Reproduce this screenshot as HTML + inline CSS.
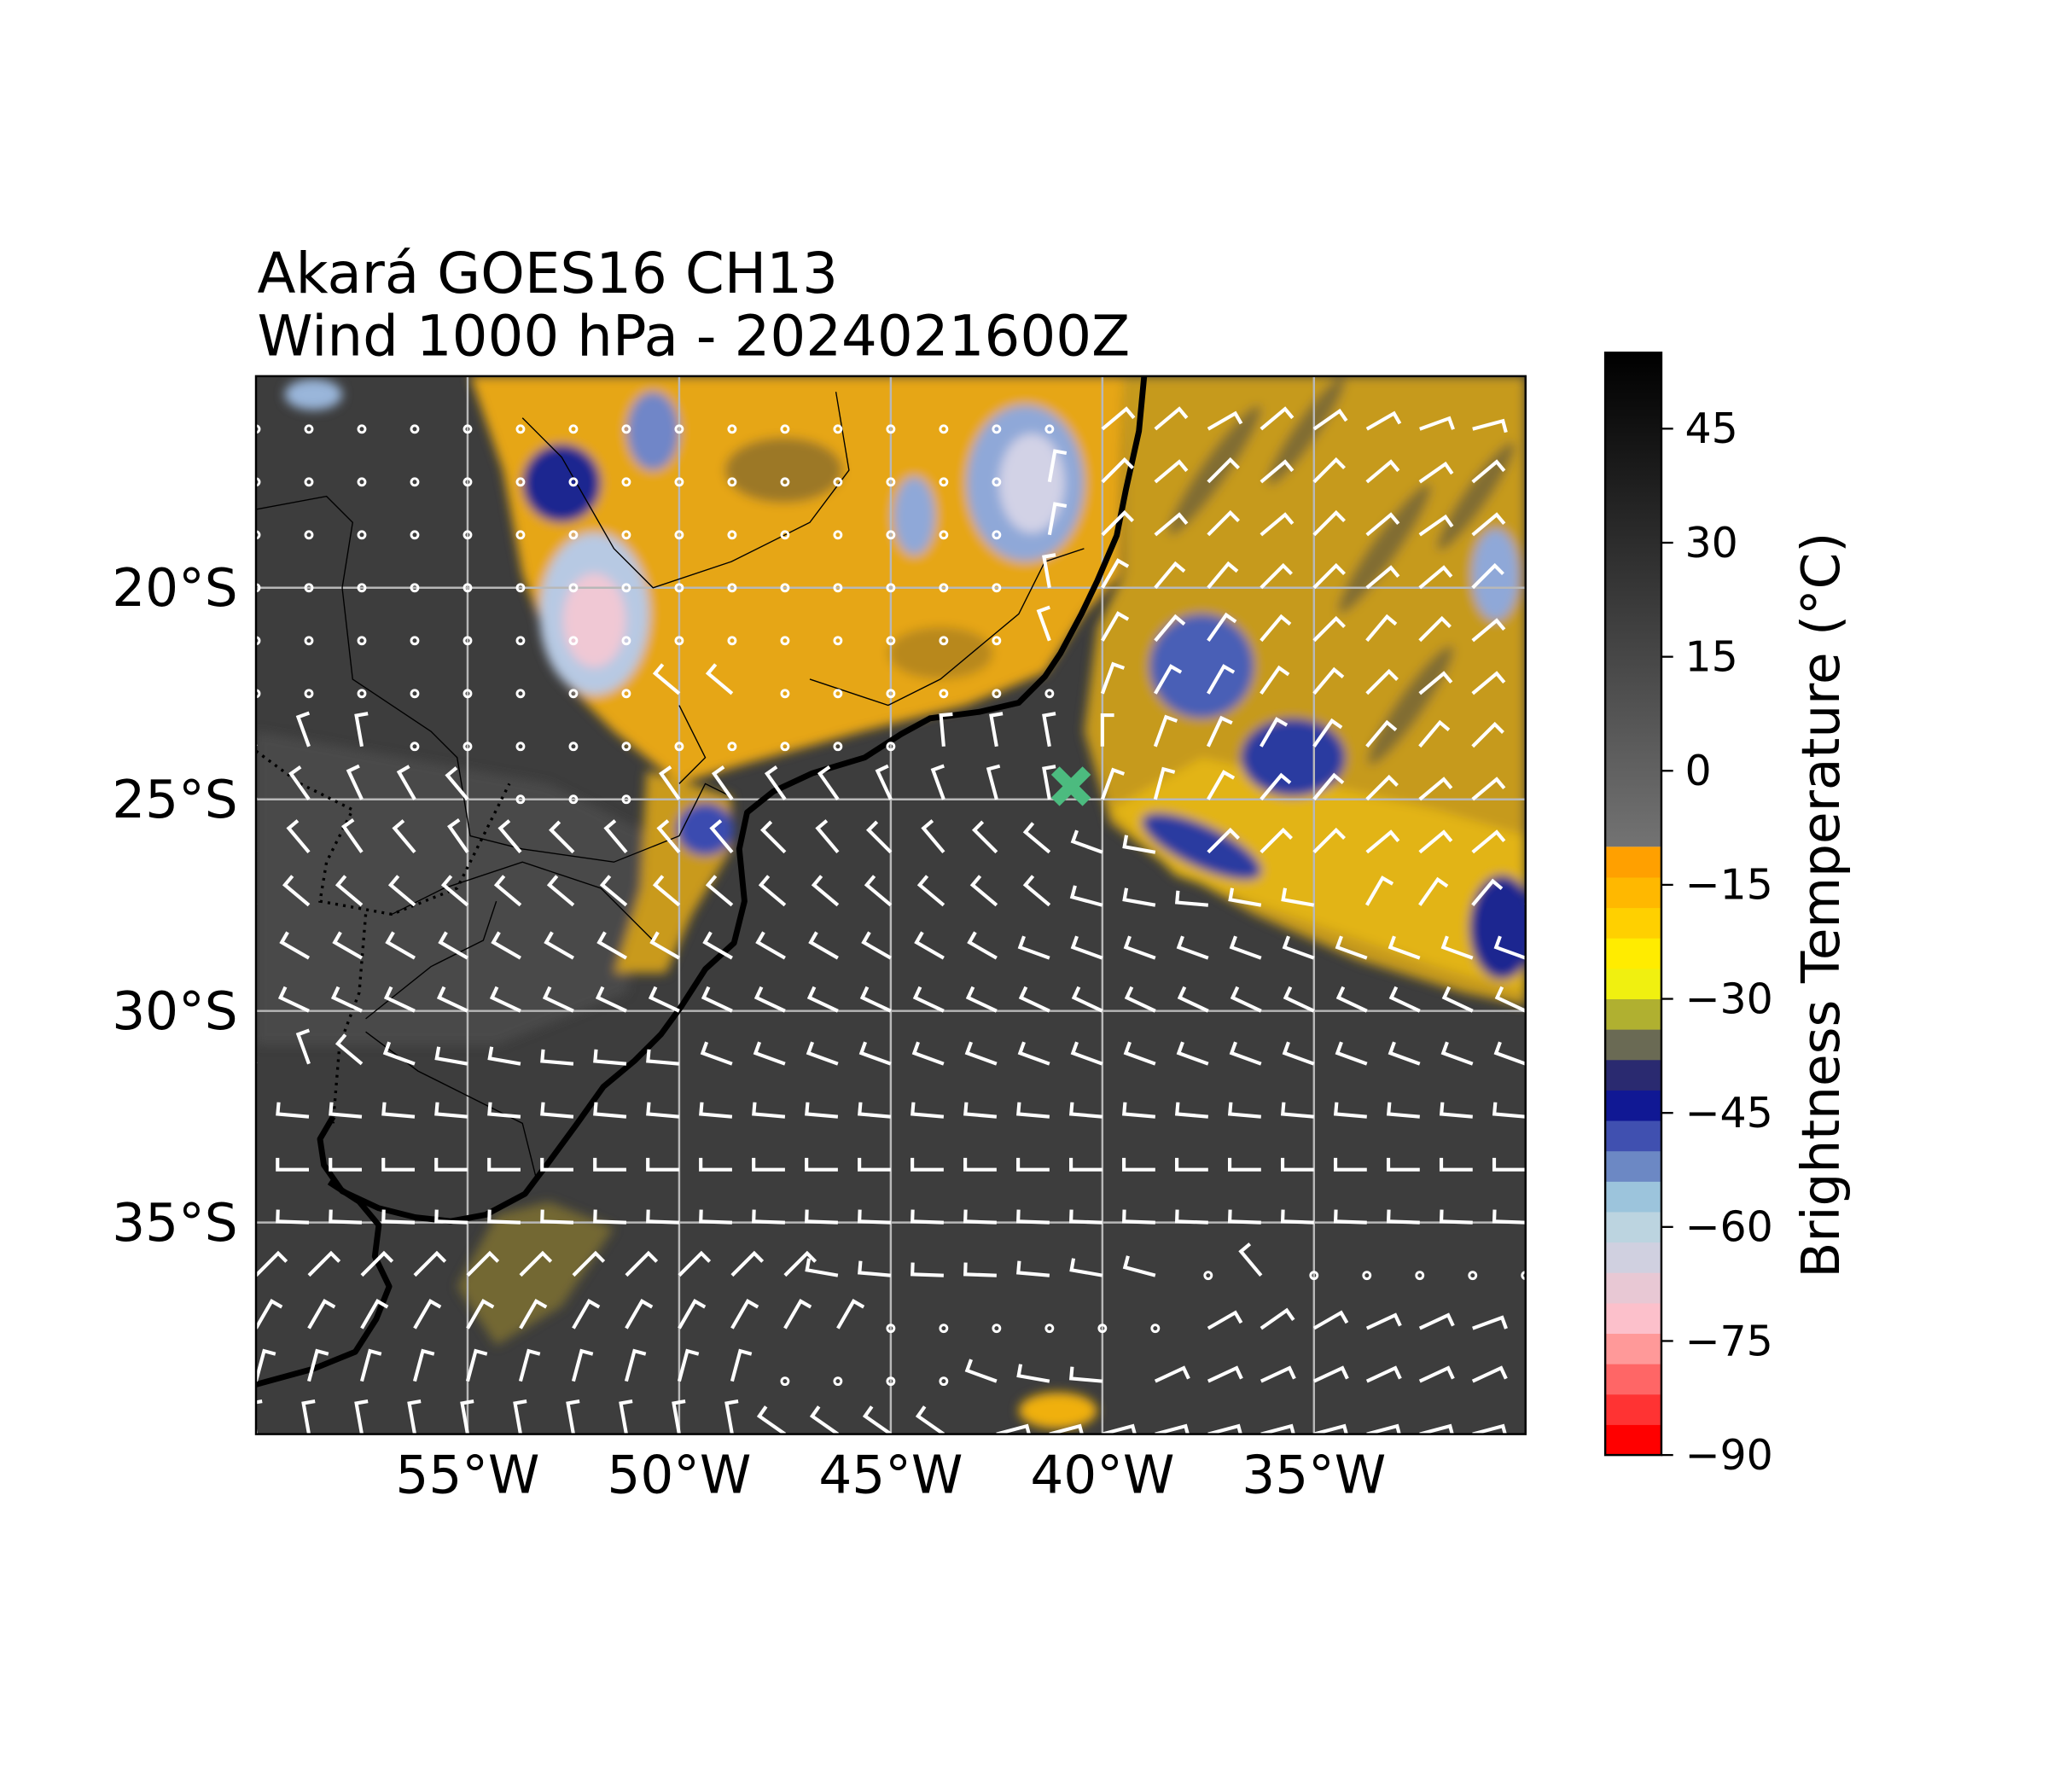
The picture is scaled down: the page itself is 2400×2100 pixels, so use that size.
<!DOCTYPE html>
<html><head><meta charset="utf-8">
<style>
html,body{margin:0;padding:0;background:#fff;}
svg{display:block;}
text{font-family:"DejaVu Sans","Liberation Sans",sans-serif;fill:#000;}
</style></head>
<body>
<svg id="chart" xmlns="http://www.w3.org/2000/svg" width="2400" height="2100" viewBox="0 0 1568 1372" preserveAspectRatio="none">
<defs>
  <clipPath id="mapclip"><rect x="196" y="288" width="972" height="810"/></clipPath>
  <linearGradient id="graygrad" x1="0" y1="1" x2="0" y2="0">
    <stop offset="0" stop-color="#737373"/>
    <stop offset="1" stop-color="#000000"/>
  </linearGradient>
  <filter id="soft" x="-10%" y="-10%" width="120%" height="120%"><feGaussianBlur stdDeviation="4"/></filter>
</defs>
<rect width="1568" height="1372" fill="#fff"/>
<text x="197" y="224" font-size="43">Akará GOES16 CH13</text>
<text x="197" y="272" font-size="43">Wind 1000 hPa - 2024021600Z</text>

<g id="map" clip-path="url(#mapclip)">
  <rect x="196" y="288" width="972" height="810" fill="#3d3d3d"/>
  <g filter="url(#soft)">
    <path d="M196,560 L420,600 L500,640 L480,760 L380,800 L196,800 Z" fill="#525252" opacity="0.6"/>
    <path d="M360,288 L860,288 L858,440 L830,470 L800,515 L740,540 L660,560 L570,585 L520,600 L470,560 L430,520 L400,440 L385,360 Z" fill="#e6a614"/>
    <ellipse cx="600" cy="360" rx="45" ry="25" fill="#6a5a30" opacity="0.6"/>
    <ellipse cx="720" cy="500" rx="40" ry="20" fill="#8a6a28" opacity="0.5"/>
    <path d="M495,590 L560,610 L560,650 L530,700 L510,745 L470,745 L490,680 Z" fill="#c99a1c"/>
    <path d="M860,288 L1168,288 L1168,770 L1120,760 L1040,735 L960,700 L890,660 L850,630 L830,560 L840,480 L860,440 Z" fill="#c69a1e"/>
    <g fill="#4a4a40" opacity="0.55">
      <ellipse cx="930" cy="360" rx="60" ry="10" transform="rotate(-55 930 360)"/>
      <ellipse cx="1000" cy="330" rx="50" ry="9" transform="rotate(-55 1000 330)"/>
      <ellipse cx="1060" cy="420" rx="60" ry="10" transform="rotate(-55 1060 420)"/>
      <ellipse cx="1130" cy="380" rx="50" ry="9" transform="rotate(-55 1130 380)"/>
      <ellipse cx="1080" cy="540" rx="55" ry="10" transform="rotate(-55 1080 540)"/>
    </g>
    <path d="M850,620 L920,580 L1010,600 L1100,620 L1168,640 L1168,760 L1100,740 L1000,705 L900,670 Z" fill="#e2b417"/>
    <ellipse cx="455" cy="470" rx="42" ry="62" fill="#b7c9e3"/>
    <ellipse cx="455" cy="475" rx="24" ry="36" fill="#f0c8d4"/>
    <ellipse cx="785" cy="370" rx="45" ry="60" fill="#8fa8d8"/>
    <ellipse cx="790" cy="370" rx="25" ry="38" fill="#d2d2e6"/>
    <ellipse cx="700" cy="395" rx="16" ry="30" fill="#8fa8d8"/>
    <ellipse cx="500" cy="330" rx="20" ry="30" fill="#6f86c8"/>
    <ellipse cx="430" cy="370" rx="30" ry="30" fill="#1a2690"/>
    <ellipse cx="920" cy="510" rx="40" ry="40" fill="#4a5eb6"/>
    <ellipse cx="990" cy="580" rx="40" ry="30" fill="#2a3aa0"/>
    <ellipse cx="920" cy="648" rx="50" ry="16" fill="#2a3aa0" transform="rotate(25 920 648)"/>
    <ellipse cx="1150" cy="710" rx="25" ry="40" fill="#1a2690"/>
    <ellipse cx="540" cy="635" rx="22" ry="20" fill="#3a4cb0"/>
    <ellipse cx="240" cy="302" rx="22" ry="12" fill="#9ab6da"/>
    <ellipse cx="1145" cy="440" rx="18" ry="35" fill="#8fa8d8"/>
    <path d="M350,985 L380,930 L420,920 L470,940 L430,1000 L380,1030 Z" fill="#8a7a30" opacity="0.7"/>
    <ellipse cx="810" cy="1080" rx="30" ry="14" fill="#f0b010"/>
  </g>
  <g id="grid" stroke="#b8b8b8" stroke-width="1.6"></g>
  <g fill="none" stroke="#000" stroke-width="0.9">
    <path d="M196,390 L250,380 L270,400 L262,450 L270,520 L300,540 L330,560 L350,580 L360,640 L400,650 L470,660 L520,640 L540,600 L560,610"/>
    <path d="M400,320 L430,350 L470,420 L500,450 L560,430 L620,400 L650,360 L640,300"/>
    <path d="M520,540 L540,580 L520,600"/>
    <path d="M300,700 L340,680 L400,660 L460,680 L500,720"/>
    <path d="M280,780 L330,740 L370,720 L380,690"/>
    <path d="M280,790 L320,820 L360,840 L400,860 L410,900"/>
    <path d="M620,520 L680,540 L720,520 L780,470 L800,430 L830,420"/>
  </g>
  <g fill="none" stroke="#000" stroke-width="2.2" stroke-dasharray="2,4">
    <path d="M196,575 L230,600 L270,620 L250,660 L245,690 L300,700 L350,680 L380,620 L390,600"/>
    <path d="M280,700 L275,760 L260,800 L255,860"/>
  </g>
  <path fill="none" stroke="#000" stroke-width="4.5" stroke-linejoin="round" d="M876,288 L872,330 L862,375 L855,410 L840,445 L828,470 L812,500 L800,518 L780,538 L750,545 L712,550 L690,562 L662,580 L622,592 L592,606 L572,622 L566,650 L570,690 L562,722 L540,742 L522,770 L506,792 L486,812 L462,832 L442,860 L420,890 L402,914 L372,930 L345,935 L318,932 L290,925 L262,912 L248,892 L245,872 L255,855"/>
  <path fill="none" stroke="#000" stroke-width="4.5" stroke-linejoin="round" d="M252,905 L275,920 L290,938 L287,962 L298,985 L288,1010 L272,1035 L240,1048 L196,1060"/>
  <g id="barbs"></g>
  <g stroke="#4cbb7f" stroke-width="9" stroke-linecap="butt">
    <line x1="808" y1="590" x2="832" y2="614"/>
    <line x1="832" y1="590" x2="808" y2="614"/>
  </g>
</g>
<rect x="196" y="288" width="972" height="810" fill="none" stroke="#000" stroke-width="1.6"/>
<g id="axes-labels"></g>
<g id="colorbar"></g>
<text x="0" y="0" font-size="40" text-anchor="middle" transform="translate(1408 693) rotate(-90)">Brightness Temperature (°C)</text>

<script>
// ---- data ----
const lonTicks = [-55, -50, -45, -40, -35];
const latTicks = [-20, -25, -30, -35];
const lonTickLabels = ["55°W", "50°W", "45°W", "40°W", "35°W"];
const latTickLabels = ["20°S", "25°S", "30°S", "35°S"];
const barbLons = [-60,-58.75,-57.5,-56.25,-55,-53.75,-52.5,-51.25,-50,-48.75,-47.5,-46.25,-45,-43.75,-42.5,-41.25,-40,-38.75,-37.5,-36.25,-35,-33.75,-32.5,-31.25,-30];
const barbLats = [-16.25,-17.5,-18.75,-20,-21.25,-22.5,-23.75,-25,-26.25,-27.5,-28.75,-30,-31.25,-32.5,-33.75,-35,-36.25,-37.5,-38.75,-40];
const N = null;
// staff direction (screen degrees) per grid point; null = calm
const windAngles = [
 [N,N,N,N,N,N,N,N,N,N,N,N,N,N,N,N,40,40,30,40,35,30,20,15,15],
 [N,N,N,N,N,N,N,N,N,N,N,N,N,N,N,80,45,40,45,40,45,40,35,40,30],
 [N,N,N,N,N,N,N,N,N,N,N,N,N,N,N,80,45,40,45,40,45,40,35,40,30],
 [N,N,N,N,N,N,N,N,N,N,N,N,N,N,N,100,60,50,50,45,45,40,40,45,40],
 [N,N,N,N,N,N,N,N,N,N,N,N,N,N,N,110,60,50,55,50,45,50,45,40,40],
 [N,N,N,N,N,N,N,N,140,140,N,N,N,N,N,N,70,60,60,55,50,45,40,40,40],
 [115,110,100,N,N,N,N,N,N,N,N,N,N,95,100,100,90,70,65,60,55,50,50,45,40],
 [120,125,115,120,130,N,N,N,125,125,125,125,115,110,105,100,70,75,60,50,50,45,40,40,35],
 [140,130,125,130,125,130,135,130,130,130,135,130,135,130,135,140,160,170,45,45,45,40,40,40,40],
 [140,140,140,140,140,140,140,140,140,140,140,140,140,140,140,140,165,170,175,170,170,60,55,50,45],
 [150,150,150,150,150,150,150,150,150,150,150,150,150,150,150,160,160,160,160,160,160,160,160,160,160],
 [155,155,155,155,155,155,155,155,155,155,155,155,155,155,155,155,155,155,155,155,155,155,155,155,155],
 [130,110,140,160,170,170,175,175,175,160,160,160,160,160,160,160,160,160,160,160,160,160,160,160,160],
 [175,175,175,175,175,175,175,175,175,175,175,175,175,175,175,175,175,175,175,175,175,175,175,175,175],
 [180,180,180,180,180,180,180,180,180,180,180,180,180,180,180,180,180,180,180,180,180,180,180,180,180],
 [178,178,178,178,178,178,178,178,178,178,178,178,178,178,178,178,178,178,178,178,178,178,178,178,178],
 [45,45,45,45,45,45,45,45,45,45,45,170,175,178,178,175,170,165,N,130,N,N,N,N,N],
 [60,60,60,60,60,60,60,60,60,60,60,60,N,N,N,N,N,N,30,35,30,25,25,20,15],
 [75,75,75,75,75,75,75,75,75,75,N,N,N,N,160,170,175,25,25,25,25,25,25,25,25],
 [100,100,100,100,100,100,100,100,100,100,145,145,145,145,15,15,15,15,15,15,15,15,15,15,15]
];
const cbBandEdges = [-90,-86,-82,-78,-74,-70,-66,-62,-58,-54,-50,-46,-42,-38,-34,-30,-26,-22,-18,-14,-10];
const cbBandColors = ["#ff0000","#ff3333","#ff6666","#ff9999","#fcc0cb","#e8c8d4","#d0d0e0","#bcd4e0","#9cc4dc","#6c88c4","#4050b0","#101894","#2a2a70","#6a6a54","#b0b030","#f0f010","#ffec00","#ffd000","#ffb800","#ffa000"];
const cbTicks = [-90,-75,-60,-45,-30,-15,0,15,30,45];
const cbMin = -90, cbMax = 55;

// ---- axes ----
const X = lon => 196 + (lon + 60) * (972 / 30);
const Y = lat => 288 + (-15 - lat) * (810 / 25);
const CY = v => 1114 - (v - cbMin) * (844 / (cbMax - cbMin));
const NS = "http://www.w3.org/2000/svg";
function mk(tag, attrs, parent){ const e=document.createElementNS(NS,tag); for(const k in attrs) e.setAttribute(k,attrs[k]); parent.appendChild(e); return e; }

const grid = document.getElementById('grid');
lonTicks.forEach(lon=>{ const l=mk('line',{x1:X(lon),x2:X(lon),y1:288,y2:1098},grid);
  
   });
latTicks.forEach(lat=>{ const l=mk('line',{x1:196,x2:1168,y1:Y(lat),y2:Y(lat)},grid);
  
   });

const labs = document.getElementById('axes-labels');
lonTicks.forEach((lon,i)=>{ const t=mk('text',{x:X(lon),y:1143,'font-size':40,'text-anchor':'middle'},labs); t.textContent=lonTickLabels[i];
  
   });
latTicks.forEach((lat,i)=>{ const t=mk('text',{x:182,y:Y(lat)+14,'font-size':40,'text-anchor':'end'},labs); t.textContent=latTickLabels[i];
  
   });

// barbs
const bg = document.getElementById('barbs');
const L = 24, F = 9;
windAngles.forEach((row,ri)=>{
  row.forEach((ang,ci)=>{
    const x = X(barbLons[ci]), y = Y(barbLats[ri]);
    if(ang === null){
      const c = mk('circle',{cx:x,cy:y,r:2.6,fill:'none',stroke:'#fff','stroke-width':1.9},bg);
      
      
      return;
    }
    const a = ang*Math.PI/180;
    const ex = x + L*Math.cos(a), ey = y - L*Math.sin(a);
    const fa = a - Math.PI/2;
    const fx = ex + F*Math.cos(fa), fy = ey - F*Math.sin(fa);
    const p = mk('path',{d:`M${x},${y} L${ex},${ey} L${fx},${fy}`,fill:'none',stroke:'#fff','stroke-width':2.7,'stroke-linejoin':'miter'},bg);
    
    
  });
});

// colorbar
const cb = document.getElementById('colorbar');
const gr = mk('rect',{x:1229,y:CY(cbMax),width:43,height:CY(-10)-CY(cbMax),fill:'url(#graygrad)'},cb);


cbBandColors.forEach((col,i)=>{
  const y1 = CY(cbBandEdges[i+1]), y0 = CY(cbBandEdges[i]);
  const r = mk('rect',{x:1229,y:y1,width:43,height:y0-y1+0.3,fill:col},cb);
  
  
});
const fr = mk('rect',{x:1229,y:CY(cbMax),width:43,height:CY(cbMin)-CY(cbMax),fill:'none',stroke:'#000','stroke-width':1.6},cb);


cbTicks.forEach(v=>{
  const tk = mk('line',{x1:1272,x2:1281,y1:CY(v),y2:CY(v),stroke:'#000','stroke-width':1.5},cb);
  
  
  const t = mk('text',{x:1290,y:CY(v)+11,'font-size':32},cb);
  t.textContent = v<0 ? '\u2212'+Math.abs(v) : String(v);
  
  
});
</script>
</svg>
</body></html>
